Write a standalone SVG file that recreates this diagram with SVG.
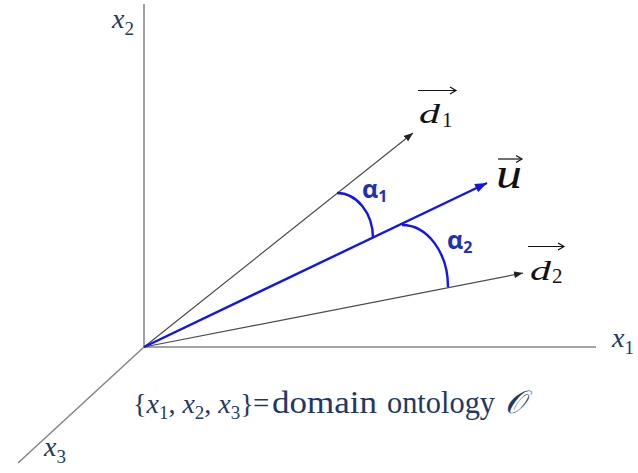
<svg xmlns="http://www.w3.org/2000/svg" width="638" height="473" viewBox="0 0 638 473">
<style>
.axis{stroke:#858585;stroke-width:1.5;fill:none}
.dvec{stroke:#4a4a4a;stroke-width:1.2;fill:none}
.uvec{stroke:#1414f0;stroke-width:2.4;fill:none}
.arc{stroke:#1414f0;stroke-width:2.4;fill:none}
.lab{font-family:"Liberation Serif","DejaVu Serif",serif;fill:#1f3864;font-size:28px}
.it{font-style:italic}
.vlab{font-family:"Liberation Serif","DejaVu Serif",serif;fill:#111;font-style:italic}
.vsub{font-family:"Liberation Serif","DejaVu Serif",serif;fill:#111;font-size:21px}
.ov{stroke:#111;stroke-width:1.2;fill:none}
.alab{font-family:"Open Sans","Liberation Sans",sans-serif;font-weight:bold;fill:#2030b8;font-size:25px}
</style>
<defs>
<marker id="ah" markerWidth="9" markerHeight="7" refX="9" refY="3.5" orient="auto" markerUnits="userSpaceOnUse"><path d="M0,0 L9,3.5 L0,7 z" fill="#222"/></marker>
<marker id="ahb" markerWidth="12" markerHeight="9" refX="12" refY="4.5" orient="auto" markerUnits="userSpaceOnUse"><path d="M0,0 L12,4.5 L0,9 z" fill="#1414f0"/></marker>
</defs>
<g id="connectors">
<line class="axis" x1="144" y1="347" x2="144" y2="4"/>
<line class="axis" x1="144" y1="347" x2="596" y2="347"/>
<line class="axis" x1="144" y1="347" x2="18" y2="463"/>
<line class="dvec" x1="144" y1="347" x2="413" y2="133" marker-end="url(#ah)"/>
<line class="dvec" x1="144" y1="347" x2="523" y2="273" marker-end="url(#ah)"/>
<line class="uvec" x1="144" y1="347" x2="487" y2="183" marker-end="url(#ahb)"/>
<path class="arc" d="M337,193 A36,45 0 0 1 373,238"/>
<path class="arc" d="M402,225 A46,62 0 0 1 448,287"/>
</g>
<g id="x2-label"><text class="lab" x="112" y="28"><tspan class="it">x</tspan><tspan dy="7" font-size="19">2</tspan></text></g>
<g id="x1-label"><text class="lab" x="612" y="347"><tspan class="it">x</tspan><tspan dy="7" font-size="19">1</tspan></text></g>
<g id="x3-label"><text class="lab" x="44" y="456"><tspan class="it">x</tspan><tspan dy="7" font-size="19">3</tspan></text></g>
<g id="d1-label">
<text class="vlab" x="419" y="123" font-size="28" textLength="21" lengthAdjust="spacingAndGlyphs">d</text>
<text class="vsub" x="442" y="127">1</text>
<path class="ov" d="M418,90.5 H455"/><path class="ov" d="M450,87 L456,90.5 L450,94"/>
</g>
<g id="d2-label">
<text class="vlab" x="530" y="280" font-size="28" textLength="21" lengthAdjust="spacingAndGlyphs">d</text>
<text class="vsub" x="552" y="283">2</text>
<path class="ov" d="M528,246.5 H563"/><path class="ov" d="M558,243 L564,246.5 L558,250"/>
</g>
<g id="u-label">
<text class="vlab" x="496" y="188" font-size="44" textLength="26" lengthAdjust="spacingAndGlyphs">u</text>
<path class="ov" d="M498,159 H521"/><path class="ov" d="M516,155.5 L522,159 L516,162.5"/>
</g>
<g id="alpha1"><text class="alab" x="362" y="198">α<tspan dy="4" font-size="16">1</tspan></text></g>
<g id="alpha2"><text class="alab" x="447" y="249">α<tspan dy="4" font-size="16">2</tspan></text></g>
<g id="caption">
<text class="lab" x="133" y="413">{<tspan class="it">x</tspan><tspan dy="6" font-size="19">1</tspan><tspan dy="-6">, </tspan><tspan class="it">x</tspan><tspan dy="6" font-size="19">2</tspan><tspan dy="-6">, </tspan><tspan class="it">x</tspan><tspan dy="6" font-size="19">3</tspan><tspan dy="-6">}</tspan></text>
<text class="lab" x="253" y="413" style="font-size:29px">=</text>
<text class="lab" x="272" y="413" style="font-size:32px" textLength="105" lengthAdjust="spacingAndGlyphs">domain</text>
<text class="lab" x="387" y="413" style="font-size:32px" textLength="108" lengthAdjust="spacingAndGlyphs">ontology</text>
<text class="lab it" x="505" y="413" style="font-size:32px">𝒪</text>
</g>
</svg>
